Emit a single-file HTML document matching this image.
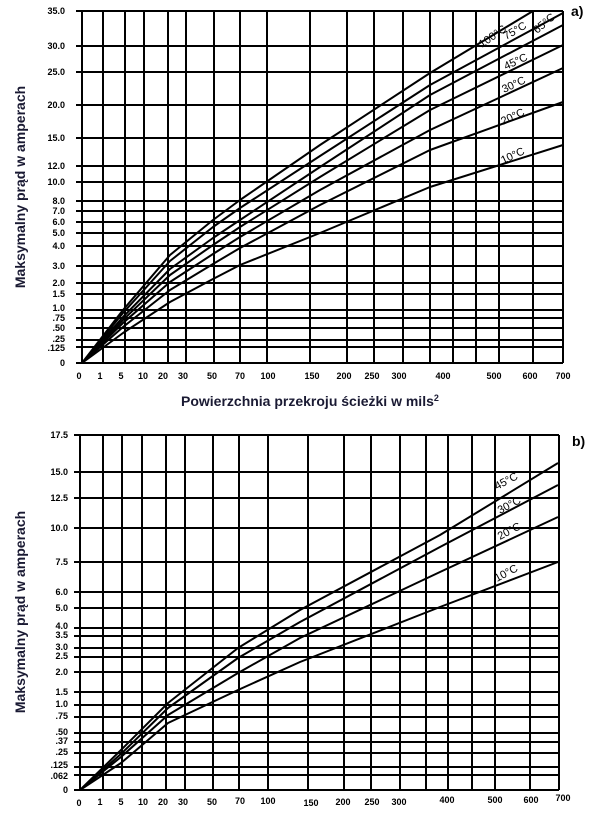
<!DOCTYPE html>
<html><head><meta charset="utf-8"><style>
html,body{margin:0;padding:0;background:#fff;}
svg{display:block;}
.t{font-family:"Liberation Sans",sans-serif;font-weight:bold;font-size:9px;fill:#000;}
.c{font-family:"Liberation Sans",sans-serif;font-size:11px;fill:#000;}
.ti{font-family:"Liberation Sans",sans-serif;font-weight:bold;font-size:14px;fill:#1a1a33;}
</style></head><body>
<svg width="600" height="820" viewBox="0 0 600 820" xmlns="http://www.w3.org/2000/svg">
<g stroke="#000" stroke-width="2" fill="none" stroke-linejoin="round">
<path d="M82 11V363 M103 11V363 M125 11V363 M144 11V363 M168 11V363 M186 11V363 M214 11V363 M240 11V363 M267 11V363 M310 11V363 M347 11V363 M374 11V363 M403 11V363 M430 11V363 M453 11V363 M476 11V363 M499 11V363 M533 11V363 M563 11V363"/>
<path d="M76 11H563 M76 46H563 M76 72H563 M76 105H563 M76 138H563 M76 166H563 M76 182H563 M76 201H563 M76 211H563 M76 222H563 M76 233H563 M76 246H563 M76 266H563 M76 283H563 M76 294H563 M76 310H563 M76 318H563 M76 328H563 M76 340H563 M76 347H563 M76 363H563"/>
<polyline points="82,363 123,333 170,302 213,279 240,265 320,233 430,187 563,145"/>
<polyline points="82,363 123,327 170,290 213,264 240,248 320,205 430,150 563,102"/>
<polyline points="82,363 123,323 170,282 213,254 240,237 320,190 430,130 563,68"/>
<polyline points="82,363 123,320 170,275 213,245 240,227 320,177 430,110 563,45"/>
<polyline points="82,363 123,317 170,269 213,238 240,220 320,167 430,95 563,25"/>
<polyline points="82,363 123,313 170,261 213,227 240,208 320,156 430,85 563,13"/>
<polyline points="82,363 123,310 170,255 213,220 240,200 320,145 430,73 533,11"/>
<path d="M80 435V790 M103 435V790 M122 435V790 M142 435V790 M166 435V790 M185 435V790 M213 435V790 M239 435V790 M268 435V790 M308 435V790 M344 435V790 M371 435V790 M400 435V790 M426 435V790 M448 435V790 M472 435V790 M495 435V790 M530 435V790 M559 435V790"/>
<path d="M74 435H559 M74 472H559 M74 498H559 M74 528H559 M74 562H559 M74 592H559 M74 608H559 M74 628H559 M74 636H559 M74 648H559 M74 657H559 M74 672H559 M74 692H559 M74 705H559 M74 717H559 M74 733H559 M74 742H559 M74 753H559 M74 767H559 M74 775H559 M74 790H559"/>
<polyline points="80,790 121,750 168,703 238,648 300,610 440,535 558,463"/>
<polyline points="80,790 122,753 168,708 238,658 300,622 440,547 558,485"/>
<polyline points="80,790 121,757 168,715 238,673 300,638 440,572 558,517"/>
<polyline points="80,790 121,763 168,723 238,690 300,662 440,607 558,562"/>
</g>
<g class="c">
<text transform="translate(482,48) rotate(-35)">100°C</text>
<text transform="translate(506,40) rotate(-30)">75°C</text>
<text transform="translate(537,34) rotate(-40)">65°C</text>
<text transform="translate(506,70) rotate(-25)">45°C</text>
<text transform="translate(504,93) rotate(-25)">30°C</text>
<text transform="translate(503,125) rotate(-25)">20°C</text>
<text transform="translate(503,164) rotate(-25)">10°C</text>
<text transform="translate(497,490) rotate(-28)">45°C</text>
<text transform="translate(500,514) rotate(-28)">30°C</text>
<text transform="translate(500,540) rotate(-28)">20°C</text>
<text transform="translate(497,582) rotate(-28)">10°C</text>
</g>
<g class="t" text-anchor="end">
<text x="65" y="14">35.0</text><text x="65" y="49">30.0</text><text x="65" y="75">25.0</text>
<text x="65" y="108">20.0</text><text x="65" y="141">15.0</text><text x="65" y="169">12.0</text>
<text x="65" y="185">10.0</text><text x="65" y="204">8.0</text><text x="65" y="214">7.0</text>
<text x="65" y="225">6.0</text><text x="65" y="236">5.0</text><text x="65" y="249">4.0</text>
<text x="65" y="269">3.0</text><text x="65" y="286">2.0</text><text x="65" y="297">1.5</text>
<text x="65" y="311">1.0</text><text x="65" y="321">.75</text><text x="65" y="331">.50</text>
<text x="65" y="342">.25</text><text x="65" y="351">.125</text><text x="65" y="366">0</text>
<text x="68" y="438">17.5</text><text x="68" y="475">15.0</text><text x="68" y="501">12.5</text>
<text x="68" y="531">10.0</text><text x="68" y="565">7.5</text><text x="68" y="595">6.0</text>
<text x="68" y="611">5.0</text><text x="68" y="629">4.0</text><text x="68" y="638">3.5</text>
<text x="68" y="650">3.0</text><text x="68" y="659">2.5</text><text x="68" y="675">2.0</text>
<text x="68" y="695">1.5</text><text x="68" y="707">1.0</text><text x="68" y="719">.75</text>
<text x="68" y="735">.50</text><text x="68" y="744">.37</text><text x="68" y="755">.25</text>
<text x="68" y="768">.125</text><text x="68" y="779">.062</text><text x="68" y="793">0</text>
</g>
<g class="t" text-anchor="middle">
<text x="79" y="379">0</text><text x="100" y="379">1</text><text x="121" y="379">5</text><text x="143" y="379">10</text>
<text x="163" y="379">20</text><text x="183" y="379">30</text><text x="212" y="379">50</text><text x="240" y="379">70</text>
<text x="268" y="379">100</text><text x="312" y="379">150</text><text x="344" y="379">200</text><text x="372" y="379">250</text>
<text x="399" y="379">300</text><text x="443" y="379">400</text><text x="494" y="379">500</text><text x="530" y="379">600</text>
<text x="563" y="379">700</text>
<text x="79" y="806">0</text><text x="100" y="805">1</text><text x="121" y="805">5</text><text x="143" y="805">10</text>
<text x="163" y="805">20</text><text x="183" y="805">30</text><text x="212" y="805">50</text><text x="240" y="804">70</text>
<text x="268" y="804">100</text><text x="311" y="806">150</text><text x="343" y="805">200</text><text x="372" y="805">250</text>
<text x="399" y="805">300</text><text x="447" y="803">400</text><text x="495" y="803">500</text><text x="531" y="803">600</text>
<text x="563" y="801">700</text>
</g>
<text class="ti" transform="translate(25,187) rotate(-90)" text-anchor="middle">Maksymalny prąd w amperach</text>
<text class="ti" transform="translate(25,612) rotate(-90)" text-anchor="middle">Maksymalny prąd w amperach</text>
<text class="ti" x="181" y="406">Powierzchnia przekroju ścieżki w mils<tspan font-size="9" dy="-5">2</tspan></text>
<text class="ti" x="571" y="16" style="fill:#000">a)</text>
<text class="ti" x="572" y="446" style="fill:#000">b)</text>
</svg>
</body></html>
